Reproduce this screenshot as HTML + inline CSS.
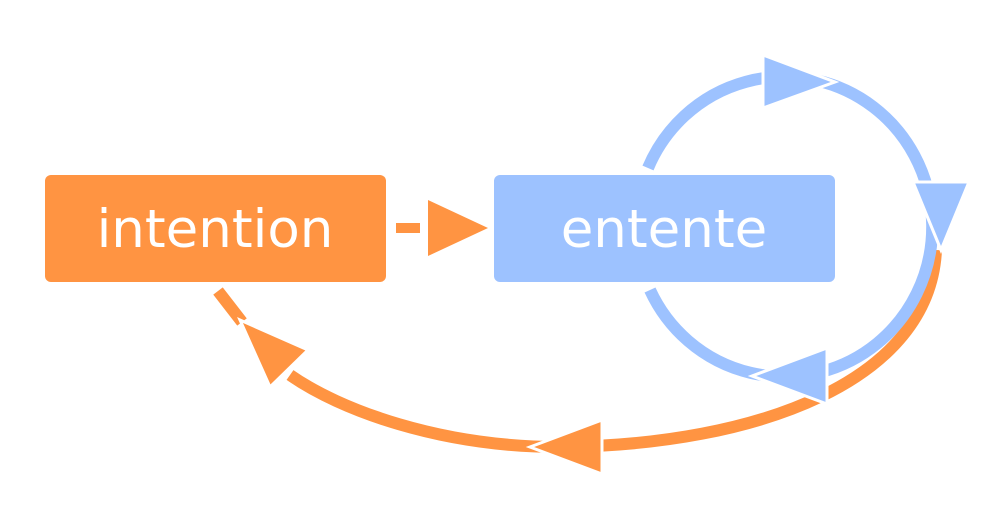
<!DOCTYPE html>
<html><head><style>html,body{margin:0;padding:0;background:#fff;}svg{display:block}</style></head>
<body>
<svg width="991" height="524" viewBox="0 0 991 524" xmlns="http://www.w3.org/2000/svg">
<path d="M 936 250 C 930 380, 760 445, 560 447 C 440 447, 340 410, 290 375" fill="none" stroke="#FF9442" stroke-width="12"/>
<line x1="218" y1="291" x2="242" y2="322" stroke="#FF9442" stroke-width="12"/>
<polygon points="240,320 308,350 270,387" fill="#FF9442" stroke="#fff" stroke-width="3"/>
<polygon points="602,420 602,474 530,447" fill="#FF9442" stroke="#fff" stroke-width="3"/>
<path d="M 648 168 A 148 150 0 1 1 650 290" fill="none" stroke="#9DC2FF" stroke-width="12"/>
<polygon points="763,55 835,82 763,108" fill="#9DC2FF" stroke="#fff" stroke-width="3"/>
<polygon points="913,182 969,182 941,250" fill="#9DC2FF" stroke="#fff" stroke-width="3"/>
<polygon points="827,348 827,404 752,376" fill="#9DC2FF" stroke="#fff" stroke-width="3"/>
<rect x="45" y="175" width="341" height="107" rx="6" fill="#FF9442"/>
<rect x="494" y="175" width="341" height="107" rx="6" fill="#9DC2FF"/>
<line x1="396" y1="228" x2="420" y2="228" stroke="#FF9442" stroke-width="10"/>
<polygon points="428,200 488,228 428,256" fill="#FF9442"/>
<text x="215" y="247" text-anchor="middle" font-family="DejaVu Sans, sans-serif" font-size="53" fill="#fff">intention</text>
<text x="664" y="247" text-anchor="middle" font-family="DejaVu Sans, sans-serif" font-size="53" fill="#fff">entente</text>
</svg>
</body></html>
